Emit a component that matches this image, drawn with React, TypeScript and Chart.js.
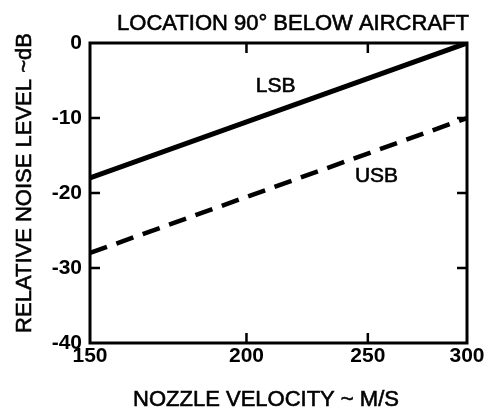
import React, { useEffect, useRef } from "react";
import { Chart, registerables } from "chart.js";

Chart.register(...registerables);

// Data
const velocities = [150, 300];
const lsbLevels = [-18, 0];
const usbLevels = [-28, -10];
const xTickValues = [150, 200, 250, 300];
const yTickValues = [0, -10, -20, -30, -40];
const seriesNames = ["LSB", "USB"];
const seriesLabelAt = [
  { x: 211, y: -5.7 },
  { x: 254, y: -17.7 },
];
const chartTitle = "LOCATION 90\u00B0 BELOW AIRCRAFT";
const xTitle = "NOZZLE VELOCITY ~ M/S";
const yTitle = "RELATIVE NOISE LEVEL ~dB";

const FONT = "'Liberation Sans', Arial, sans-serif";

function heavyText(ctx: CanvasRenderingContext2D, s: string, x: number, y: number) {
  ctx.fillText(s, x, y);
  ctx.lineWidth = 0.6;
  ctx.strokeText(s, x, y);
}

const decorPlugin = {
  id: "decor",
  afterDatasetsDraw(chart: any) {
    const { ctx, chartArea } = chart;
    const { left, right, top, bottom } = chartArea;
    const xs = chart.scales.x;
    const ys = chart.scales.y;
    ctx.save();
    ctx.strokeStyle = "#000";
    // frame
    ctx.lineWidth = 3;
    ctx.strokeRect(left, top, right - left, bottom - top);
    // inward tick marks
    ctx.lineWidth = 2.5;
    const tl = 10;
    xTickValues.slice(1, -1).forEach((v) => {
      const px = xs.getPixelForValue(v);
      ctx.beginPath();
      ctx.moveTo(px, top);
      ctx.lineTo(px, top + tl);
      ctx.moveTo(px, bottom);
      ctx.lineTo(px, bottom - tl);
      ctx.stroke();
    });
    yTickValues.slice(1, -1).forEach((v) => {
      const py = ys.getPixelForValue(v);
      ctx.beginPath();
      ctx.moveTo(left, py);
      ctx.lineTo(left + tl, py);
      ctx.moveTo(right, py);
      ctx.lineTo(right - tl, py);
      ctx.stroke();
    });
    // series labels
    ctx.fillStyle = "#000";
    ctx.textAlign = "center";
    ctx.textBaseline = "middle";
    ctx.font = `21px ${FONT}`;
    seriesNames.forEach((name, i) => {
      const p = seriesLabelAt[i];
      heavyText(ctx, name, xs.getPixelForValue(p.x), ys.getPixelForValue(p.y));
    });
    // titles
    ctx.font = `22px ${FONT}`;
    ctx.textBaseline = "alphabetic";
    heavyText(ctx, chartTitle, 293, 30);
    heavyText(ctx, xTitle, 266, 406);
    ctx.translate(31, 183);
    ctx.rotate(-Math.PI / 2);
    heavyText(ctx, yTitle, 0, 0);
    ctx.restore();
  },
};

export default function App() {
  const ref = useRef<HTMLCanvasElement | null>(null);
  useEffect(() => {
    document.body.style.margin = "0";
    const canvas = ref.current!;
    const chart = new Chart(canvas, {
      type: "line",
      data: {
        datasets: [
          {
            label: seriesNames[0],
            data: velocities.map((v, i) => ({ x: v, y: lsbLevels[i] })),
            borderColor: "#000",
            borderWidth: 5,
            pointRadius: 0,
            fill: false,
          },
          {
            label: seriesNames[1],
            data: velocities.map((v, i) => ({ x: v, y: usbLevels[i] })),
            borderColor: "#000",
            borderWidth: 4.5,
            borderDash: [18, 10],
            pointRadius: 0,
            fill: false,
          },
        ],
      },
      options: {
        responsive: false,
        animation: false,
        layout: { padding: { top: 43, right: 20, left: 0, bottom: 0 } },
        plugins: {
          legend: { display: false },
          tooltip: { enabled: false },
          title: { display: false },
        },
        scales: {
          x: {
            type: "logarithmic",
            min: 150,
            max: 300,
            afterBuildTicks: (scale: any) => {
              scale.ticks = xTickValues.map((v) => ({ value: v }));
            },
            afterFit: (scale: any) => {
              scale.height = 71;
            },
            grid: { display: false, drawTicks: false },
            border: { display: false },
            ticks: {
              autoSkip: false,
              maxRotation: 0,
              padding: 1,
              color: "#000",
              font: { size: 21, family: FONT, weight: "bold" },
              callback: (v: any) => String(v),
            },
          },
          y: {
            type: "linear",
            min: -40,
            max: 0,
            afterBuildTicks: (scale: any) => {
              scale.ticks = yTickValues.map((v) => ({ value: v }));
            },
            afterFit: (scale: any) => {
              scale.width = 90;
            },
            grid: { display: false, drawTicks: false },
            border: { display: false },
            ticks: {
              padding: 8,
              color: "#000",
              font: { size: 21, family: FONT, weight: "bold" },
              callback: (v: any) => String(v),
            },
          },
        },
      },
      plugins: [decorPlugin],
    });
    return () => chart.destroy();
  }, []);
  return (
    <div style={{ position: "fixed", left: 0, top: 0, width: 487, height: 414, background: "#fff" }}>
      <canvas ref={ref} width={487} height={414} style={{ display: "block" }} />
    </div>
  );
}
